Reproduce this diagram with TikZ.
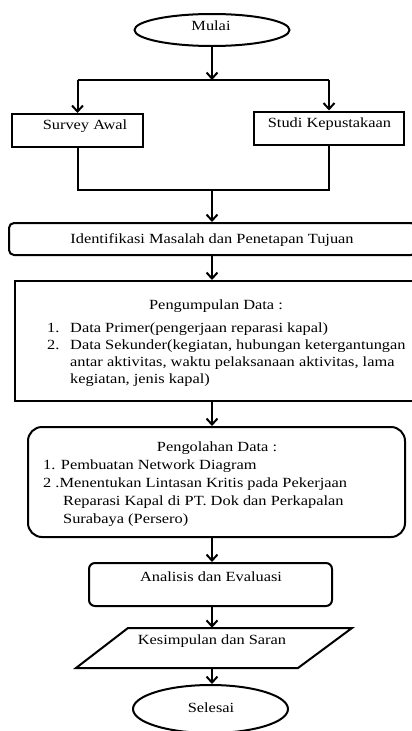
\documentclass[tikz,border=0pt]{standalone}
\usepackage{fontspec}
\setmainfont{Liberation Serif}[FakeStretch=1.17]
\usetikzlibrary{arrows.meta,shapes.geometric}
\begin{document}
\begin{tikzpicture}[x=1pt,y=-1pt,
  ln/.style={line width=2pt},
  arr/.style={ln,-{Straight Barb[length=6pt,width=11pt,line width=2pt]}},
  boxsq/.style={draw,ln,rectangle,inner sep=0pt},
  term/.style={draw,ln,ellipse,inner sep=0pt},
  txt/.style={inner sep=0pt,font=\fontsize{14}{17}\selectfont},
  ghost/.style={rectangle,inner sep=0pt}]
\useasboundingbox (0,0) rectangle (412,731);
\clip (0,0) rectangle (412,731);
\coordinate (mx) at (212,0);
% shapes
\node[term,minimum width=155pt,minimum height=32pt] (mulai) at (212,30) {};
\node[txt] (tmulai) at (211,26) {Mulai};
\node[boxsq,minimum width=131pt,minimum height=33pt] (survey) at (77.5,130.5) {};
\node[txt] (tsurvey) at (85,126) {Survey Awal};
\node[boxsq,minimum width=150pt,minimum height=33pt] (studi) at (329,128) {};
\node[txt] (tstudi) at (329.5,124) {Studi Kepustakaan};
\node[boxsq,rounded corners=5pt,minimum width=407pt,minimum height=32pt] (idf) at (212.5,239) {};
\node[txt] (tidf) at (212,240) {Identifikasi Masalah dan Penetapan Tujuan};
\node[boxsq,minimum width=403pt,minimum height=120pt] (pen) at (216.5,341) {};
\node[txt,anchor=base] (tpen) at (216,309) {Pengumpulan Data :};
\node[txt,anchor=base west] (p1n) at (47,332) {1.};
\node[txt,anchor=base west] (p1) at (70,332) {Data Primer(pengerjaan reparasi kapal)};
\node[txt,anchor=base west] (p2n) at (47,349) {2.};
\node[txt,anchor=base west] (p2) at (70,349) {Data Sekunder(kegiatan, hubungan ketergantungan};
\node[txt,anchor=base west] (p3) at (70,366) {antar aktivitas, waktu pelaksanaan aktivitas, lama};
\node[txt,anchor=base west] (p4) at (70,383) {kegiatan, jenis kapal)};
\node[boxsq,rounded corners=14pt,minimum width=377pt,minimum height=110pt] (olah) at (216.5,482) {};
\node[txt,anchor=base] (tolah) at (217,451) {Pengolahan Data :};
\node[txt,anchor=base west] (o1) at (43,469) {1. Pembuatan Network Diagram};
\node[txt,anchor=base west] (o2) at (43,487) {2 .Menentukan Lintasan Kritis pada Pekerjaan};
\node[txt,anchor=base west] (o3) at (63,505) {Reparasi Kapal di PT. Dok dan Perkapalan};
\node[txt,anchor=base west] (o4) at (63,523) {Surabaya (Persero)};
\node[boxsq,rounded corners=6pt,minimum width=243pt,minimum height=43pt] (anal) at (210.5,584.5) {};
\node[txt] (tanal) at (211,577) {Analisis dan Evaluasi};
\draw[ln,line join=miter] (128,628) -- (352,628) -- (298,668) -- (76,668) -- cycle;
\node[ghost,minimum width=170pt,minimum height=40pt] (kes) at (214,648) {};
\node[txt] (tkes) at (212,641) {Kesimpulan dan Saran};
\node[term,minimum width=155pt,minimum height=48pt] (sel) at (210.5,709) {};
\node[txt] (tsel) at (211,708) {Selesai};
% connectors
\coordinate (j1) at (212,80);
\coordinate (j2) at (212,190);
\draw[arr] (mulai.south -| mx) -- (j1);
\draw[ln] (j1 -| survey.south) -- (j1 -| studi.south);
\draw[arr] (j1 -| survey.south) -- (survey.north);
\draw[arr] (j1 -| studi.south) -- (studi.north);
\draw[ln] (survey.south) -- (j2 -| survey.south) -- (j2 -| studi.south) -- (studi.south);
\draw[arr] (j2) -- (idf.north -| mx);
\draw[arr] (idf.south -| mx) -- (pen.north -| mx);
\draw[arr] (pen.south -| mx) -- (olah.north -| mx);
\draw[arr] (olah.south -| mx) -- (anal.north -| mx);
\draw[arr] (anal.south -| mx) -- (kes.north -| mx);
\draw[arr] (kes.south -| mx) -- (sel.north -| mx);
\end{tikzpicture}
\end{document}
